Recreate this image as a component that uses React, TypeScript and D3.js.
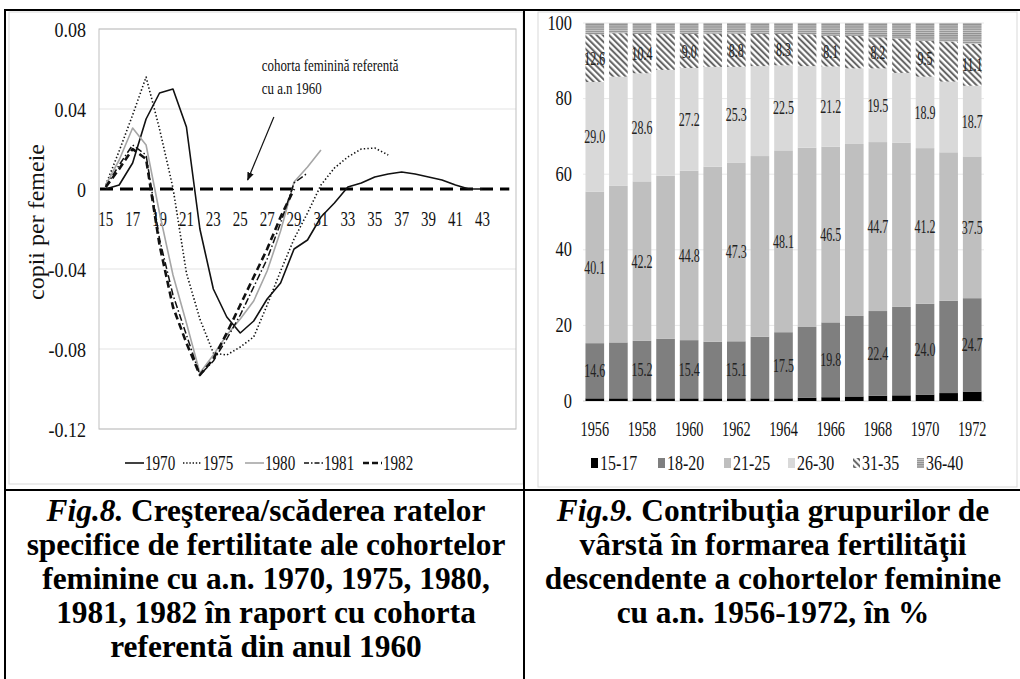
import React from 'react'
import * as d3 from 'd3'

// ---------- Fig.8 data (difference vs. 1960 cohort, children per woman) ----------
const AGES = d3.range(15, 46)
const AGE_TICKS = [15, 17, 19, 21, 23, 25, 27, 29, 31, 33, 35, 37, 39, 41, 43]
const RATE_TICKS = [0.08, 0.04, 0, -0.04, -0.08, -0.12]
const RATE_TICK_LABELS = ['0.08', '0.04', '0', '-0.04', '-0.08', '-0.12']

// values start at age 15
const c1970 = [0, 0.002, 0.013, 0.035, 0.048, 0.05, 0.031, -0.02, -0.05, -0.064, -0.072, -0.066, -0.055, -0.047, -0.03, -0.0255, -0.014, -0.007, 0.001, 0.003, 0.006, 0.0075, 0.0085, 0.0075, 0.006, 0.0045, 0.002, 0, 0]
const c1975 = [0.002, 0.019, 0.037, 0.056, 0.03, 0.0005, -0.042, -0.065, -0.082, -0.083, -0.079, -0.074, -0.058, -0.041, -0.025, -0.012, 0.002, 0.0105, 0.016, 0.02, 0.0205, 0.017]
const c1980 = [0.002, 0.0145, 0.0305, 0.022, -0.012, -0.043, -0.067, -0.092, -0.083, -0.073, -0.065, -0.056, -0.041, -0.021, 0.0035, 0.011, 0.0195]
const c1981 = [0.001, 0.012, 0.022, 0.017, -0.025, -0.053, -0.073, -0.093, -0.086, -0.075, -0.063, -0.049, -0.035, -0.017, 0.003, 0.008]
const c1982 = [0.001, 0.01, 0.02, 0.015, -0.028, -0.059, -0.077, -0.093, -0.085, -0.072, -0.058, -0.044, -0.03, -0.014, 0]
const REF_VALUE = 0

// ---------- Fig.9 data (% contribution of age groups) ----------
const YEARS = ['1956', '1957', '1958', '1959', '1960', '1961', '1962', '1963', '1964', '1965', '1966', '1967', '1968', '1969', '1970', '1971', '1972']
const YEAR_TICKS = ['1956', '1958', '1960', '1962', '1964', '1966', '1968', '1970', '1972']
const PCT_TICKS = [0, 20, 40, 60, 80, 100]
const GROUPS = ['15-17', '18-20', '21-25', '26-30', '31-35', '36-40']
const g1517 = [0.7, 0.7, 0.7, 0.7, 0.7, 0.7, 0.7, 0.7, 0.7, 0.9, 1.0, 1.2, 1.4, 1.5, 1.7, 2.1, 2.5]
const g1820 = [14.6, 14.8, 15.2, 15.8, 15.4, 15.0, 15.1, 16.3, 17.5, 18.8, 19.8, 21.3, 22.4, 23.4, 24.0, 24.4, 24.7]
const g2125 = [40.1, 41.4, 42.2, 43.1, 44.8, 46.3, 47.3, 47.8, 48.1, 47.3, 46.5, 45.5, 44.7, 43.4, 41.2, 39.3, 37.5]
const g2630 = [29.0, 28.9, 28.6, 28.0, 27.2, 26.4, 25.3, 23.8, 22.5, 21.6, 21.2, 20.0, 19.5, 18.5, 18.9, 18.7, 18.7]
const g3135 = [12.6, 11.5, 10.4, 9.6, 9.0, 8.8, 8.8, 8.5, 8.3, 8.4, 8.1, 8.6, 8.2, 9.1, 9.5, 10.6, 11.1]
const g3640 = [3.0, 2.7, 2.9, 2.8, 2.9, 2.8, 2.8, 2.9, 2.9, 3.0, 3.4, 3.4, 3.8, 4.1, 4.7, 4.9, 5.5]
// groups whose values are printed (every second cohort)
const LABELLED_GROUPS = ['18-20', '21-25', '26-30', '31-35']

const SERIF = "'Liberation Serif', 'Times New Roman', serif"

function T({ x, y, size, sx = 0.78, anchor = 'middle', children, ...rest }: any) {
  return (
    <text
      transform={`translate(${x},${y}) scale(${sx},1)`}
      fontSize={size}
      textAnchor={anchor}
      dominantBaseline="central"
      fontFamily={SERIF}
      fill="#111"
      {...rest}
    >
      {children}
    </text>
  )
}

function LineChart() {
  const x = d3.scalePoint<number>().domain(AGES).range([99, 516]).padding(0.5)
  const y = d3.scaleLinear().domain([-0.12, 0.08]).range([429, 29])

  const series = [
    { name: '1970', values: c1970, stroke: '#111', width: 1.6, dash: 'none', legendDash: 'none' },
    { name: '1975', values: c1975, stroke: '#111', width: 1.6, dash: '1.4,2.2', legendDash: '1.4,1.8' },
    { name: '1980', values: c1980, stroke: '#a6a6a6', width: 1.6, dash: 'none', legendDash: 'none' },
    { name: '1981', values: c1981, stroke: '#111', width: 1.5, dash: '7,2.5,1.5,2.5', legendDash: '5,2,1.5,2' },
    { name: '1982', values: c1982, stroke: '#111', width: 2.6, dash: '7,4', legendDash: '6,3' },
  ]

  const line = d3
    .line<number>()
    .x((_, i) => x(AGES[i]) as number)
    .y(d => y(d))

  const legendX = [125, 183, 245, 304, 363]

  // annotation in data coordinates
  const arrowFrom = { age: 27.5, v: 0.036 }
  const arrowTo = { age: 25.55, v: 0.0045 }
  const ax = (a: number) => (x(15) as number) + (a - 15) * x.step()

  return (
    <g>
      <rect x={9} y={12} width={514} height={472} fill="#fff" stroke="#d9d9d9" />
      {RATE_TICKS.filter(t => t !== 0).map(t => (
        <line key={t} x1={99} x2={516} y1={y(t)} y2={y(t)} stroke="#e3e3e3" />
      ))}
      <rect x={99} y={y(0.08)} width={417} height={y(-0.12) - y(0.08)} fill="none" stroke="#bfbfbf" />
      {RATE_TICKS.map((t, i) => (
        <T key={t} x={86} y={y(t)} size={22} sx={0.82} anchor="end">{RATE_TICK_LABELS[i]}</T>
      ))}
      {AGE_TICKS.map(a => (
        <T key={a} x={x(a)} y={218} size={22} sx={0.68}>{a}</T>
      ))}
      <text
        transform={`translate(36,222) rotate(-90)`}
        fontSize={24}
        textAnchor="middle"
        dominantBaseline="central"
        fontFamily={SERIF}
        fill="#111"
      >
        copii per femeie
      </text>

      {/* reference cohort 1960 */}
      <line x1={100} x2={x(45)} y1={y(REF_VALUE)} y2={y(REF_VALUE)} stroke="#000" strokeWidth={3.2} strokeDasharray="13,7" />

      {series.map(s => (
        <path
          key={s.name}
          d={line(s.values) || ''}
          fill="none"
          stroke={s.stroke}
          strokeWidth={s.width}
          strokeDasharray={s.dash}
          strokeLinejoin="round"
        />
      ))}

      <defs>
        <marker id="arrowHead" viewBox="0 0 10 10" refX={9} refY={5} markerWidth={7} markerHeight={7} orient="auto">
          <path d="M0,1 L10,5 L0,9 z" fill="#111" />
        </marker>
      </defs>
      <line
        x1={ax(arrowFrom.age)}
        y1={y(arrowFrom.v)}
        x2={ax(arrowTo.age)}
        y2={y(arrowTo.v)}
        stroke="#111"
        strokeWidth={1.2}
        markerEnd="url(#arrowHead)"
      />
      <T x={ax(26.6)} y={y(0.062)} size={17} sx={0.76} anchor="start">cohorta feminină referentă</T>
      <T x={ax(26.6)} y={y(0.0505)} size={17} sx={0.76} anchor="start">cu a.n 1960</T>

      {series.map((s, i) => (
        <g key={s.name}>
          <line
            x1={legendX[i]}
            x2={legendX[i] + 19}
            y1={463}
            y2={463}
            stroke={s.stroke}
            strokeWidth={s.width}
            strokeDasharray={s.legendDash}
          />
          <T x={legendX[i] + 20} y={463} size={21} sx={0.72} anchor="start">{s.name}</T>
        </g>
      ))}
    </g>
  )
}

function BarChart() {
  const x = d3.scaleBand().domain(YEARS).range([583, 984]).paddingInner(0.21).paddingOuter(0.105)
  const y = d3.scaleLinear().domain([0, 100]).range([401, 23])

  const table = YEARS.map((yr, i) => ({
    year: yr,
    '15-17': g1517[i],
    '18-20': g1820[i],
    '21-25': g2125[i],
    '26-30': g2630[i],
    '31-35': g3135[i],
    '36-40': g3640[i],
  }))
  const stacked = d3.stack<any>().keys(GROUPS)(table)

  const fills: Record<string, string> = {
    '15-17': '#000',
    '18-20': '#7f7f7f',
    '21-25': '#bfbfbf',
    '26-30': '#d9d9d9',
    '31-35': 'url(#diag)',
    '36-40': 'url(#horiz)',
  }
  const legendX = [591, 658, 724, 788, 853, 917]

  return (
    <g>
      <defs>
        <pattern id="diag" width={4.4} height={4.4} patternUnits="userSpaceOnUse" patternTransform="rotate(-45)">
          <rect width={4.4} height={4.4} fill="#fff" />
          <line x1={1.1} y1={0} x2={1.1} y2={4.4} stroke="#5a5a5a" strokeWidth={1.9} />
        </pattern>
        <pattern id="horiz" width={4} height={2.2} patternUnits="userSpaceOnUse">
          <rect width={4} height={2.2} fill="#c9c9c9" />
          <line x1={0} y1={0.6} x2={4} y2={0.6} stroke="#8a8a8a" strokeWidth={1.1} />
        </pattern>
      </defs>
      <rect x={538} y={12} width={479} height={475} fill="#fff" stroke="#d9d9d9" />
      {PCT_TICKS.filter(t => t > 0).map(t => (
        <line key={t} x1={583} x2={984} y1={y(t)} y2={y(t)} stroke="#e8e8e8" />
      ))}
      <line x1={583} x2={984} y1={y(0)} y2={y(0)} stroke="#d0d0d0" />
      {PCT_TICKS.map(t => (
        <T key={t} x={572} y={y(t)} size={20} sx={0.82} anchor="end">{t}</T>
      ))}
      {stacked.map(layer => (
        <g key={layer.key}>
          {layer.map((d, i) => (
            <rect
              key={i}
              x={x(YEARS[i])}
              y={y(d[1])}
              width={x.bandwidth()}
              height={y(d[0]) - y(d[1])}
              fill={fills[layer.key]}
            />
          ))}
        </g>
      ))}
      {stacked
        .filter(layer => LABELLED_GROUPS.includes(layer.key))
        .map(layer =>
          layer.map((d, i) =>
            YEAR_TICKS.includes(YEARS[i]) ? (
              <T
                key={layer.key + i}
                x={(x(YEARS[i]) as number) + x.bandwidth() / 2}
                y={y((d[0] + d[1]) / 2)}
                size={19}
                sx={0.63}
                fill="#222"
              >
                {(d[1] - d[0]).toFixed(1)}
              </T>
            ) : null
          )
        )}
      {YEAR_TICKS.map(yr => (
        <T key={yr} x={(x(yr) as number) + x.bandwidth() / 2} y={429} size={21} sx={0.68}>{yr}</T>
      ))}
      {GROUPS.map((g, i) => (
        <g key={g}>
          <rect x={legendX[i]} y={458} width={7} height={10} fill={fills[g]} />
          <T x={legendX[i] + 9} y={463} size={21} sx={0.76} anchor="start">{g}</T>
        </g>
      ))}
    </g>
  )
}

const CAP_LEFT = [
  ['Fig.8.', ' Creşterea/scăderea ratelor'],
  ['', 'specifice de fertilitate ale cohortelor'],
  ['', 'feminine cu a.n. 1970, 1975, 1980,'],
  ['', '1981, 1982 în raport cu cohorta'],
  ['', 'referentă din anul 1960'],
]
const CAP_RIGHT = [
  ['Fig.9.', ' Contribuţia grupurilor de'],
  ['', 'vârstă în formarea fertilităţii'],
  ['', 'descendente a cohortelor feminine'],
  ['', 'cu a.n. 1956-1972, în %'],
]

function Caption({ lines, cx }: { lines: string[][]; cx: number }) {
  return (
    <g>
      {lines.map((l, i) => (
        <text
          key={i}
          transform={`translate(${cx},${510 + i * 34}) scale(0.98,1)`}
          fontSize={32}
          fontWeight="bold"
          textAnchor="middle"
          dominantBaseline="central"
          fontFamily={SERIF}
          fill="#000"
        >
          {l[0] ? <tspan fontStyle="italic">{l[0]}</tspan> : null}
          {l[1]}
        </text>
      ))}
    </g>
  )
}

export default function App() {
  return (
    <svg width={1020} height={679} style={{ position: 'absolute', left: 0, top: 0, background: '#fff' }}>
      <rect width={1020} height={679} fill="#fff" />
      <LineChart />
      <BarChart />
      <Caption lines={CAP_LEFT} cx={266} />
      <Caption lines={CAP_RIGHT} cx={773} />
      {/* table borders */}
      <line x1={4} x2={1020} y1={10} y2={10} stroke="#000" strokeWidth={2} />
      <line x1={5} x2={5} y1={9} y2={679} stroke="#000" strokeWidth={2} />
      <line x1={524} x2={524} y1={9} y2={679} stroke="#000" strokeWidth={2} />
      <line x1={4} x2={1020} y1={490} y2={490} stroke="#000" strokeWidth={2} />
    </svg>
  )
}
